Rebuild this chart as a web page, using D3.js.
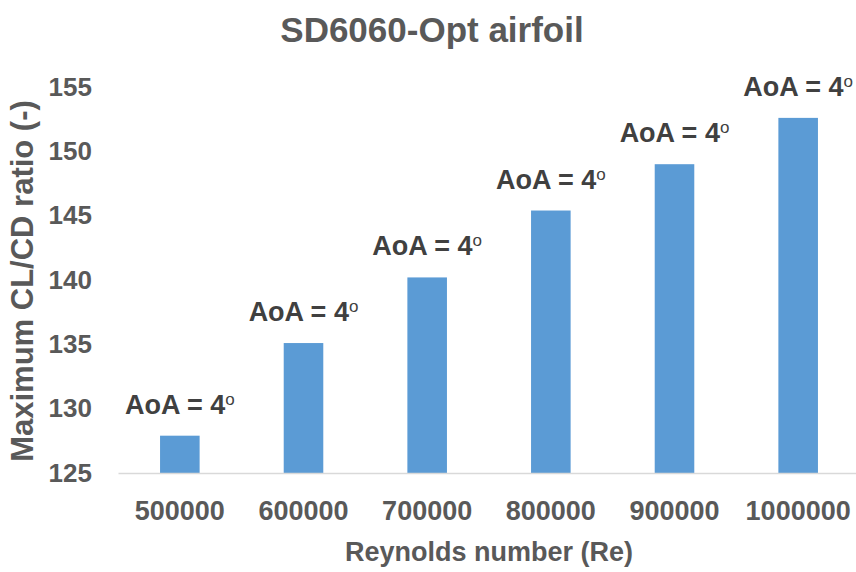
<!DOCTYPE html>
<html>
<head>
<meta charset="utf-8">
<script src="https://cdn.jsdelivr.net/npm/d3@7"></script>
<style>
  body { margin: 0; background: #fff; }
  svg { font-family: "Liberation Sans", Arial, sans-serif; font-weight: bold; }
</style>
</head>
<body>
<svg id="chart" width="856" height="572"></svg>
<script>
const reynolds = ['500000', '600000', '700000', '800000', '900000', '1000000']
const maxRatio = [127.9, 135.1, 140.2, 145.4, 149.0, 152.6]
const aoaLabels = ['4', '4', '4', '4', '4', '4']
const yTicks = [125, 130, 135, 140, 145, 150, 155]

let dimensions = {
  width: 856,
  height: 572,
  margin: { top: 87, bottom: 99, left: 118, right: -4 }
}

let svg = d3.select('#chart')

let xScale = d3.scaleBand()
  .domain(reynolds)
  .range([dimensions.margin.left, dimensions.width - dimensions.margin.right])
  .paddingInner(0.68)
  .paddingOuter(0.34)

let yScale = d3.scaleLinear()
  .domain([125, 155])
  .range([dimensions.height - dimensions.margin.bottom, dimensions.margin.top])

// title
svg.append('text')
  .attr('x', 432)
  .attr('y', 42)
  .attr('text-anchor', 'middle')
  .attr('fill', '#595959')
  .style('font-size', '35px')
  .text('SD6060-Opt airfoil')

// y axis (labels only)
let yAxis = svg.append('g')
  .attr('transform', `translate(${dimensions.margin.left - 26},0)`)
  .call(d3.axisLeft(yScale).tickValues(yTicks).tickSize(0).tickPadding(0))
yAxis.select('.domain').remove()
yAxis.selectAll('text')
  .attr('fill', '#595959')
  .style('font-size', '26px')
  .style('font-family', '"Liberation Sans", Arial, sans-serif')
  .style('font-weight', 'bold')

// bars
svg.selectAll('rect.bar')
  .data(maxRatio)
  .enter()
  .append('rect')
  .attr('class', 'bar')
  .attr('x', (d, i) => xScale(reynolds[i]))
  .attr('y', d => yScale(d))
  .attr('width', xScale.bandwidth())
  .attr('height', d => yScale(125) - yScale(d))
  .attr('fill', '#5B9BD5')

// x axis
let xAxis = svg.append('g')
  .attr('transform', `translate(0,${yScale(125)})`)
  .call(d3.axisBottom(xScale).tickSize(0).tickPadding(28))
xAxis.select('.domain').attr('stroke', '#D9D9D9').attr('stroke-width', 1.5)
xAxis.selectAll('text')
  .attr('fill', '#595959')
  .style('font-size', '27px')
  .style('font-family', '"Liberation Sans", Arial, sans-serif')
  .style('font-weight', 'bold')

// data labels
let labels = svg.selectAll('text.lbl')
  .data(maxRatio)
  .enter()
  .append('text')
  .attr('class', 'lbl')
  .attr('x', (d, i) => xScale(reynolds[i]) + xScale.bandwidth() / 2)
  .attr('y', d => yScale(d) - 22)
  .attr('text-anchor', 'middle')
  .attr('fill', '#404040')
  .style('font-size', '27px')
labels.append('tspan').text((d, i) => 'AoA = ' + aoaLabels[i])
labels.append('tspan')
  .attr('dy', -9)
  .style('font-size', '17px')
  .style('font-weight', 'normal')
  .text('o')

// axis titles
svg.append('text')
  .attr('x', 489)
  .attr('y', 561)
  .attr('text-anchor', 'middle')
  .attr('fill', '#595959')
  .style('font-size', '27px')
  .text('Reynolds number (Re)')

svg.append('text')
  .attr('transform', 'translate(33,281) rotate(-90)')
  .attr('text-anchor', 'middle')
  .attr('fill', '#595959')
  .style('font-size', '31px')
  .text('Maximum CL/CD ratio (-)')
</script>
</body>
</html>
